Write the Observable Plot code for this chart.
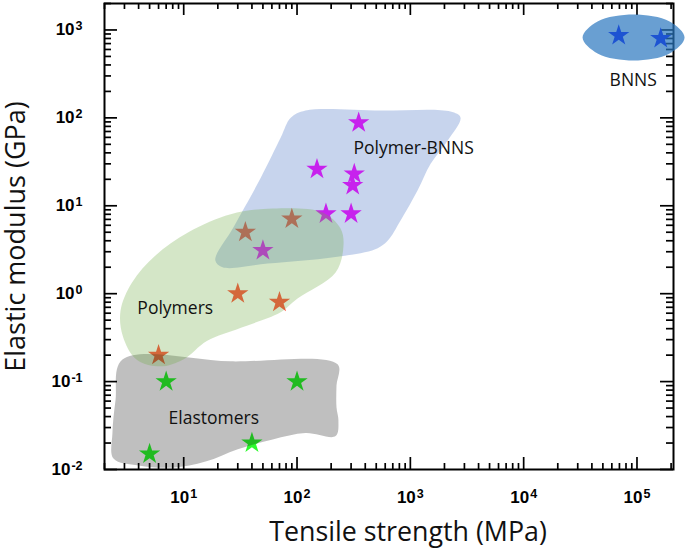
<!DOCTYPE html>
<html><head><meta charset="utf-8">
<script src="https://cdn.jsdelivr.net/npm/d3@7"></script>
<script src="https://cdn.jsdelivr.net/npm/@observablehq/plot@0.6"></script>
<style>html,body{margin:0;padding:0;background:#fff} svg{display:block}</style>
</head><body><div id="chart"></div>
<script>
// ---- series values (tensile strength MPa, elastic modulus GPa) ----
const elastomersX = [5, 7, 40, 100];
const elastomersY = [0.015, 0.1, 0.02, 0.1];
const polymersX = [6, 30, 70, 35, 90];
const polymersY = [0.2, 1.0, 0.8, 5.0, 7.1];
const polymerBnnsX = [50, 350, 150, 320, 310, 180, 300];
const polymerBnnsY = [3.1, 88, 26, 23, 17, 8.1, 8.1];
const bnnsX = [69000, 162000];
const bnnsY = [865, 800];

// ---- region outlines (data space) ----
const elastomersRegionX = [2.88, 26, 228, 223, 223, 232, 219, 119, 61, 30, 15.6, 8, 4, 2.4, 2.35, 2.5];
const elastomersRegionY = [0.178, 0.17, 0.157, 0.09, 0.051, 0.036, 0.024, 0.026, 0.022, 0.017, 0.0123, 0.0105, 0.0111, 0.0133, 0.026, 0.061];
const polymersRegionX = [61, 168, 242, 257, 219, 101, 71, 32, 16, 10, 6.2, 3.8, 2.9, 2.77, 3.5, 5.6, 11, 26];
const polymersRegionY = [9.3, 8.4, 5.5, 3.5, 1.74, 0.88, 0.61, 0.41, 0.29, 0.18, 0.149, 0.18, 0.33, 0.64, 1.34, 2.7, 5.0, 8.0];
const polymerBnnsRegionX = [88, 119, 546, 2260, 2770, 2130, 1510, 1160, 820, 630, 490, 210, 55, 22, 19, 27.5, 48, 72];
const polymerBnnsRegionY = [100, 121, 121, 118, 101, 55, 30, 15, 6.8, 4.0, 3.2, 2.6, 2.2, 2.0, 2.4, 5.7, 21, 60];
const bnnsRegionX = [33100, 44900, 93300, 194000, 263000, 194000, 93300, 44900];
const bnnsRegionY = [822, 1250, 1500, 1250, 822, 541, 450, 541];

// ---- labels ----
const regionLabels = ["BNNS", "Polymer-BNNS", "Polymers", "Elastomers"];
const regionLabelX = [57300, 315, 3.9, 7.35];
const regionLabelY = [266, 44.9, 0.679, 0.038];
const xTitle = "Tensile strength (MPa)";
const yTitle = "Elastic modulus (GPa)";
const xDecades = [1e1, 1e2, 1e3, 1e4, 1e5];
const yDecades = [1e-2, 1e-1, 1e0, 1e1, 1e2, 1e3];
const xDomain = [2, 2.1e5];
const yDomain = [0.01, 2000];

const rows = (xs, ys) => xs.map((x, i) => ({x, y: ys[i]}));
const W = 685, H = 549, mL = 104, mR = 12, mT = 3, mB = 80;
const innerW = W - mL - mR, innerH = H - mT - mB;
const isDecade = v => Math.abs(Math.log10(v) - Math.round(Math.log10(v))) < 1e-9;
const xMinor = d3.scaleLog().domain(xDomain).ticks().filter(v => !isDecade(v));
const yMinor = d3.scaleLog().domain(yDomain).ticks().filter(v => !isDecade(v));
const fmt = d => "10^" + Math.round(Math.log10(d));
const tk = {stroke: "black", strokeWidth: 1.7};
const labelFont = {fontFamily: "Open Sans", fontWeight: "normal", fill: "#111"};
const tickFont = {fontFamily: "Liberation Sans", fontWeight: "bold", fontSize: 17, fill: "black"};

const regionLine = (xs, ys, fill, op) => Plot.line(rows(xs, ys), {
  x: "x", y: "y", curve: "catmull-rom-closed", fill, fillOpacity: op, stroke: "none"
});

const svg = Plot.plot({
  width: W, height: H,
  marginLeft: mL, marginRight: mR, marginTop: mT, marginBottom: mB,
  style: {fontFamily: "Liberation Sans, Arial, sans-serif", fontSize: "17px", color: "black", background: "white", overflow: "visible"},
  x: {type: "log", domain: xDomain, axis: null},
  y: {type: "log", domain: yDomain, axis: null},
  marks: [
    Plot.frame({stroke: "black", strokeWidth: 2}),
    Plot.tickX(xDecades, {x: d => d, insetTop: innerH - 12, ...tk}),
    Plot.tickX(xMinor, {x: d => d, insetTop: innerH - 6, ...tk}),
    Plot.tickX(xDecades, {x: d => d, insetBottom: innerH - 12, ...tk}),
    Plot.tickX(xMinor, {x: d => d, insetBottom: innerH - 6, ...tk}),
    Plot.tickY(yDecades, {y: d => d, insetRight: innerW - 13, ...tk}),
    Plot.tickY(yMinor, {y: d => d, insetRight: innerW - 7, ...tk}),
    Plot.tickY(yDecades, {y: d => d, insetLeft: innerW - 13, ...tk}),
    Plot.tickY(yMinor, {y: d => d, insetLeft: innerW - 7, ...tk}),
    Plot.text(xDecades, {x: d => d, frameAnchor: "bottom", dy: 28, text: fmt, textAnchor: "middle", lineAnchor: "middle", ...tickFont}),
    Plot.text(yDecades, {y: d => d, frameAnchor: "left", dx: -22, text: fmt, textAnchor: "end", lineAnchor: "middle", ...tickFont}),
    Plot.dot(rows(elastomersX, elastomersY), {x: "x", y: "y", symbol: "star", r: 6.7, fill: "rgb(45,250,45)", stroke: "none"}),
    Plot.dot(rows(polymersX, polymersY), {x: "x", y: "y", symbol: "star", r: 6.7, fill: "rgb(255,75,55)", stroke: "none"}),
    Plot.dot(rows(polymerBnnsX, polymerBnnsY), {x: "x", y: "y", symbol: "star", r: 6.7, fill: "rgb(255,0,255)", stroke: "none"}),
    Plot.dot(rows(bnnsX, bnnsY), {x: "x", y: "y", symbol: "star", r: 6.7, fill: "rgb(0,0,255)", stroke: "none"}),
    regionLine(elastomersRegionX, elastomersRegionY, "black", 0.25),
    regionLine(polymerBnnsRegionX, polymerBnnsRegionY, "rgb(68,114,196)", 0.3),
    regionLine(polymersRegionX, polymersRegionY, "rgb(112,173,71)", 0.3),
    regionLine(bnnsRegionX, bnnsRegionY, "rgb(42,118,191)", 0.7),
    Plot.text(regionLabels, {x: (d, i) => regionLabelX[i], y: (d, i) => regionLabelY[i], text: d => d, textAnchor: "start", fontSize: 17.5, ...labelFont}),
    Plot.text([xTitle], {frameAnchor: "bottom", dx: 19, dy: 63, text: d => d, textAnchor: "middle", lineAnchor: "middle", fontSize: 26.8, ...labelFont}),
    Plot.text([yTitle], {frameAnchor: "left", dx: -88, rotate: -90, text: d => d, textAnchor: "middle", lineAnchor: "middle", fontSize: 27, ...labelFont})
  ]
});

// superscript exponents on tick labels
d3.select(svg).selectAll("text").each(function() {
  const t = this.textContent;
  if (!t.includes("^") || this.querySelector("tspan")) return;
  const [b, e] = t.split("^");
  this.textContent = "";
  const s = d3.select(this);
  s.append("tspan").text(b);
  s.append("tspan").attr("dx", "1").attr("dy", "-0.42em").attr("font-size", "12.5px").text(e);
});
document.getElementById("chart").appendChild(svg);
</script></body></html>
